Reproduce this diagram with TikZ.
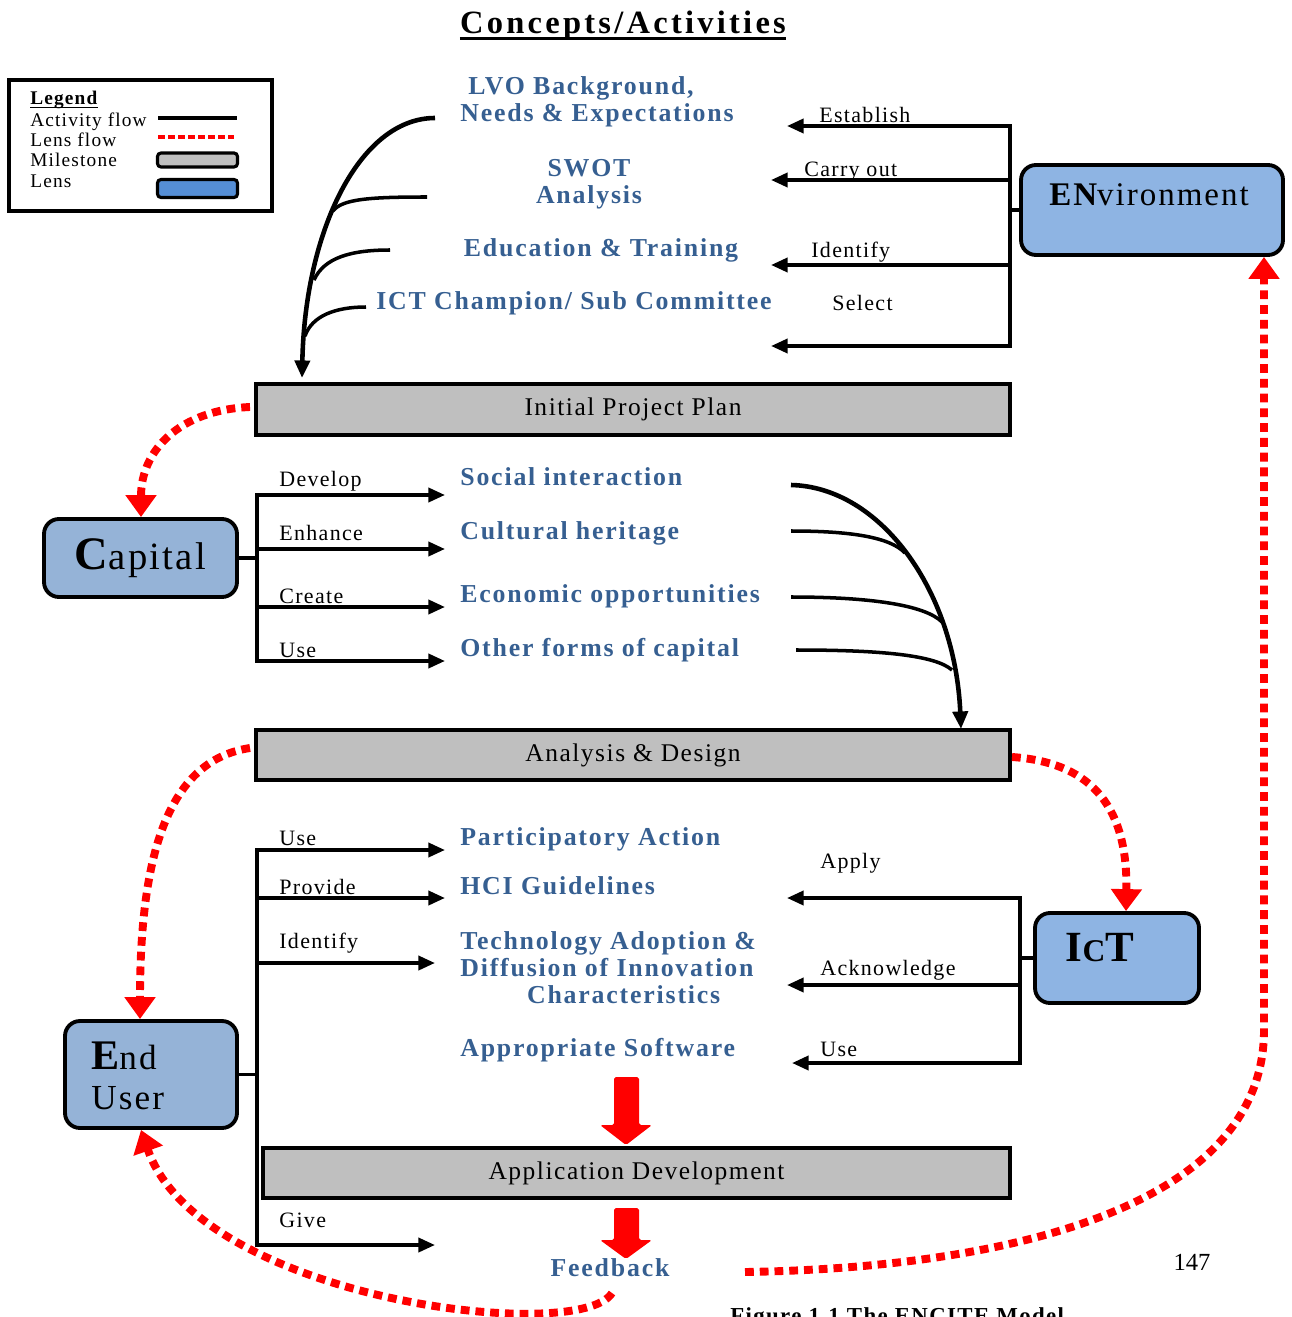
\documentclass[tikz,border=0pt]{standalone}
\usepackage{fontspec}
\setmainfont{Liberation Serif}
\newfontfamily\lsf[LetterSpace=6]{Liberation Serif}
\newfontfamily\lsb[LetterSpace=7]{Liberation Serif}
\newfontfamily\lsw[LetterSpace=10]{Liberation Serif}
\usetikzlibrary{arrows.meta}
\definecolor{txtblue}{RGB}{54,95,145}
\definecolor{lensA}{RGB}{142,180,227}
\definecolor{lensB}{RGB}{149,179,215}
\definecolor{lensL}{RGB}{85,142,213}
\definecolor{milegray}{RGB}{191,191,191}
\begin{document}
\begin{tikzpicture}[x=0.02cm,y=-0.02cm,
  act/.style={line width=2.1pt, -{Triangle[length=9.5pt,width=8pt]}},
  actb/.style={line width=2.1pt, line join=miter, {Triangle[length=9.5pt,width=8pt]}-{Triangle[length=9.5pt,width=8pt]}},
  plain/.style={line width=2.1pt},
  lns/.style={draw, line width=2.2pt, rounded corners=8.5pt, inner sep=0pt},
  mile/.style={draw, line width=2.2pt, fill=milegray, inner sep=0pt, font=\lsf\fontsize{14.5pt}{16pt}\selectfont},
  lensflow/.style={draw=red, line width=4.5pt, dash pattern=on 5pt off 3.4pt, -{Triangle[length=12.5pt,width=17pt,fill=red]}},
  btxt/.style={text=txtblue, inner sep=0pt, font=\lsb\bfseries\fontsize{14.7pt}{15.3pt}\selectfont},
  lbl/.style={inner sep=0pt, anchor=base west, font=\lsf\fontsize{12.5pt}{14pt}\selectfont},
  legtxt/.style={inner sep=0pt, anchor=base west, font=\lsf\fontsize{11pt}{12pt}\selectfont},
  curv/.style={line width=2pt},
  curvm/.style={line width=2.6pt, -{Triangle[length=10pt,width=8.5pt]}},
]
\useasboundingbox (0,0) rectangle (1291,1317);

% ---------- title ----------
\node[anchor=base, inner sep=0pt, font=\lsw\bfseries\fontsize{18.5pt}{20pt}\selectfont] (ttl) at (623,34) {Concepts/Activities};
\draw[line width=1.3pt] ([yshift=-2.6pt]ttl.base west) -- ([yshift=-2.6pt]ttl.base east);

% ---------- legend ----------
\node[draw, line width=1.8pt, minimum width=5.26cm, minimum height=2.62cm, inner sep=0pt] (leg) at (140.5,145.5) {};
\node[legtxt, font=\lsf\bfseries\fontsize{11pt}{12pt}\selectfont] (legt) at (30,105) {Legend};
\draw[line width=0.8pt] ([yshift=-1.3pt]legt.base west) -- ([yshift=-1.3pt]legt.base east);
\node[legtxt] (lg1) at (30,127) {Activity flow};
\node[legtxt] (lg2) at (30,147) {Lens flow};
\node[legtxt] (lg3) at (30,167) {Milestone};
\node[legtxt] (lg4) at (30,188) {Lens};
\coordinate (l1a) at (158,118); \coordinate (l1b) at (237,118);
\draw[line width=2pt] (l1a) -- (l1b);
\coordinate (l2a) at (158,137); \coordinate (l2b) at (234,137);
\draw[red, line width=2.4pt, dash pattern=on 4pt off 1.7pt] (l2a) -- (l2b);
\node[draw, line width=1.8pt, fill=milegray, rounded corners=2pt, minimum width=1.6cm, minimum height=0.28cm, inner sep=0pt] (lgm) at (197.5,160) {};
\node[draw, line width=1.8pt, fill=lensL, rounded corners=2pt, minimum width=1.6cm, minimum height=0.36cm, inner sep=0pt] (lgl) at (197.5,188.5) {};

% ---------- lenses ----------
\node[lns, fill=lensA, minimum width=5.24cm, minimum height=1.8cm] (env) at (1152,210) {};
\node[inner sep=0pt, font=\lsf\fontsize{18.8pt}{20pt}\selectfont] (envt) at (1149,195) {\bfseries EN\mdseries vironment};
\node[lns, fill=lensB, minimum width=3.86cm, minimum height=1.56cm, font=\lsf] (cap) at (140.5,558) {{\fontsize{26.5pt}{26pt}\selectfont\bfseries C}{\fontsize{22pt}{26pt}\selectfont apital}};
\node[lns, fill=lensA, minimum width=3.28cm, minimum height=1.8cm] (ict) at (1117,958) {};
\node[inner sep=0pt, font=\lsf\bfseries] (ictt) at (1100,948) {{\fontsize{24.5pt}{23pt}\selectfont I}{\fontsize{18pt}{23pt}\selectfont C}{\fontsize{24.5pt}{23pt}\selectfont T}};
\node[lns, fill=lensB, minimum width=3.44cm, minimum height=2.14cm] (eu) at (151,1074.5) {};
\node[inner sep=0pt, anchor=west, align=left, font=\lsf\fontsize{20pt}{22.7pt}\selectfont] (eut) at (91,1076) {{\fontsize{24pt}{22.7pt}\selectfont\bfseries E}nd\\User};

% ---------- milestones ----------
\node[mile, minimum width=15.08cm, minimum height=1.02cm] (ipp) at (633,409.5) {Initial Project Plan};
\node[mile, minimum width=15.08cm, minimum height=1.0cm] (ad) at (633,755) {Analysis \& Design};
\node[mile, minimum width=14.94cm, minimum height=1.0cm] (appd) at (636.5,1173) {Application Development};

% ---------- top concepts ----------
\node[btxt, align=left, anchor=west] (lvo) at (460,102) {\hspace*{4.5pt}LVO Background,\\Needs \& Expectations};
\node[btxt, align=center] (swot) at (589,184) {SWOT\\Analysis};
\node[btxt, anchor=base] (edu) at (601,257) {Education \& Training};
\node[btxt, anchor=base] (ictc) at (574,310) {ICT Champion/ Sub Committee};

% environment bracket
\coordinate (eb1) at (1010,126); \coordinate (eb2) at (1010,180);
\coordinate (eb3) at (1010,265); \coordinate (eb4) at (1010,346);
\coordinate (ea1) at (787,126); \coordinate (ea2) at (771,180);
\coordinate (ea3) at (771,265); \coordinate (ea4) at (771,346);
\draw[actb] (ea1) -- (eb1) -- (eb4) -- (ea4);
\draw[act] (eb2) -- (ea2);
\draw[act] (eb3) -- (ea3);
\draw[plain] (env.west) -- (env.west -| eb1);
\node[lbl] (l_est) at (819,123) {Establish};
\node[lbl] (l_car) at (804,177) {Carry out};
\node[lbl] (l_ide) at (811,258) {Identify};
\node[lbl] (l_sel) at (832,311) {Select};

% top-left gathering curve
\coordinate (tc0) at (435,118); \coordinate (tc1) at (302,378);
\draw[curvm] (tc0) .. controls (360,118) and (305,230) .. (tc1);
\coordinate (tb1) at (427,197); \coordinate (tj1) at (333,211);
\draw[curv] (tb1) .. controls (370,197) and (342,199) .. (tj1);
\coordinate (tb2) at (390,250); \coordinate (tj2) at (314,280);
\draw[curv] (tb2) .. controls (350,250) and (324,258) .. (tj2);
\coordinate (tb3) at (366,307); \coordinate (tj3) at (305,336);
\draw[curv] (tb3) .. controls (335,307) and (312,316) .. (tj3);

% ---------- capital section ----------
\coordinate (cb1) at (257,495); \coordinate (cb2) at (257,549);
\coordinate (cb3) at (257,607); \coordinate (cb4) at (257,661);
\coordinate (ca1) at (445,495); \coordinate (ca2) at (445,549);
\coordinate (ca3) at (445,607); \coordinate (ca4) at (445,661);
\draw[actb] (ca1) -- (cb1) -- (cb4) -- (ca4);
\draw[act] (cb2) -- (ca2);
\draw[act] (cb3) -- (ca3);
\draw[plain] (cap.east) -- (cap.east -| cb1);
\node[lbl] (l_dev) at (279,486) {Develop};
\node[lbl] (l_enh) at (279,540) {Enhance};
\node[lbl] (l_cre) at (279,603) {Create};
\node[lbl] (l_use1) at (279,657) {Use};
\node[btxt, anchor=base west] (soc) at (460,485) {Social interaction};
\node[btxt, anchor=base west] (cul) at (460,539) {Cultural heritage};
\node[btxt, anchor=base west] (eco) at (460,602) {Economic opportunities};
\node[btxt, anchor=base west] (oth) at (460,656) {Other forms of capital};

% right gathering curve
\coordinate (rc0) at (791,485); \coordinate (rc1) at (961,729);
\draw[curvm] (rc0) .. controls (880,487) and (955,590) .. (rc1);
\coordinate (rb1) at (791,531); \coordinate (rj1) at (905,553);
\draw[curv] (rb1) .. controls (850,531) and (890,537) .. (rj1);
\coordinate (rb2) at (791,597); \coordinate (rj2) at (942,622);
\draw[curv] (rb2) .. controls (870,597) and (925,605) .. (rj2);
\coordinate (rb3) at (796,650); \coordinate (rj3) at (952,670);
\draw[curv] (rb3) .. controls (880,650) and (935,655) .. (rj3);

% ---------- end user section ----------
\coordinate (ub1) at (257,850); \coordinate (ub2) at (257,898);
\coordinate (ub3) at (257,963); \coordinate (ub4) at (257,1245);
\coordinate (ua1) at (445,850); \coordinate (ua2) at (445,898);
\coordinate (ua3) at (435,963); \coordinate (ua4) at (435,1245);
\draw[actb] (ua1) -- (ub1) -- (ub4) -- (ua4);
\draw[act] (ub2) -- (ua2);
\draw[act] (ub3) -- (ua3);
\draw[plain] (eu.east) -- (eu.east -| ub1);
\node[lbl] (l_use2) at (279,845) {Use};
\node[lbl] (l_pro) at (279,894) {Provide};
\node[lbl] (l_ide2) at (279,948) {Identify};
\node[lbl] (l_giv) at (279,1227) {Give};
\node[btxt, anchor=base west] (par) at (460,845) {Participatory Action};
\node[btxt, anchor=base west] (hci) at (460,894) {HCI Guidelines};
\node[btxt, align=left, anchor=west] (tech) at (460,967.5) {Technology Adoption \&\\Diffusion of Innovation\\\hspace*{38pt}Characteristics};
\node[btxt, anchor=base west] (aps) at (460,1056) {Appropriate Software};
\node[btxt, anchor=base] (fb) at (610,1276) {Feedback};

% ICT bracket
\coordinate (ib1) at (1020,898); \coordinate (ib2) at (1020,985);
\coordinate (ib3) at (1020,1063);
\coordinate (ia1) at (787,898); \coordinate (ia2) at (787,985);
\coordinate (ia3) at (792,1063);
\draw[actb] (ia1) -- (ib1) -- (ib3) -- (ia3);
\draw[act] (ib2) -- (ia2);
\draw[plain] (ict.west) -- (ict.west -| ib1);
\node[lbl] (l_app) at (820,868) {Apply};
\node[lbl] (l_ack) at (820,975) {Acknowledge};
\node[lbl] (l_use3) at (820,1056) {Use};

% block arrows
\fill[red, rounded corners=1pt] (614,1077) -- (639,1077) -- (639,1125) -- (652,1125) -- (626,1145) -- (600,1125) -- (614,1125) -- cycle;
\fill[red, rounded corners=1pt] (614,1208) -- (639,1208) -- (639,1240) -- (652,1240) -- (626,1259) -- (600,1240) -- (614,1240) -- cycle;

% ---------- lens flows ----------
\coordinate (f1s) at (250,407);
\draw[lensflow] (f1s) .. controls (180,410) and (141,450) .. (cap.north -| 141,0);
\coordinate (f2s) at (250,748);
\draw[lensflow] (f2s) .. controls (170,760) and (140,850) .. (eu.north -| 140,0);
\coordinate (f3s) at (1012,757);
\draw[lensflow] (f3s) .. controls (1085,762) and (1128,800) .. (ict.north -| 1126,0);
\coordinate (f4s) at (612,1293);
\draw[lensflow] (f4s) .. controls (580,1345) and (200,1300) .. (eu.south -| 141,0);
\coordinate (f5s) at (745,1272);
\draw[lensflow] (f5s) .. controls (1000,1268) and (1264,1210) .. (1264,1030) -- (env.south -| 1264,0);

% ---------- page furniture ----------
\node[inner sep=0pt, font=\fontsize{14pt}{16pt}\selectfont] (pg) at (1192,1262) {147};
\node[inner sep=0pt, anchor=base west, font=\lsf\bfseries\fontsize{13pt}{15pt}\selectfont] (cap2) at (730,1323) {Figure 1.1 The ENCITE Model};
\end{tikzpicture}
\end{document}
